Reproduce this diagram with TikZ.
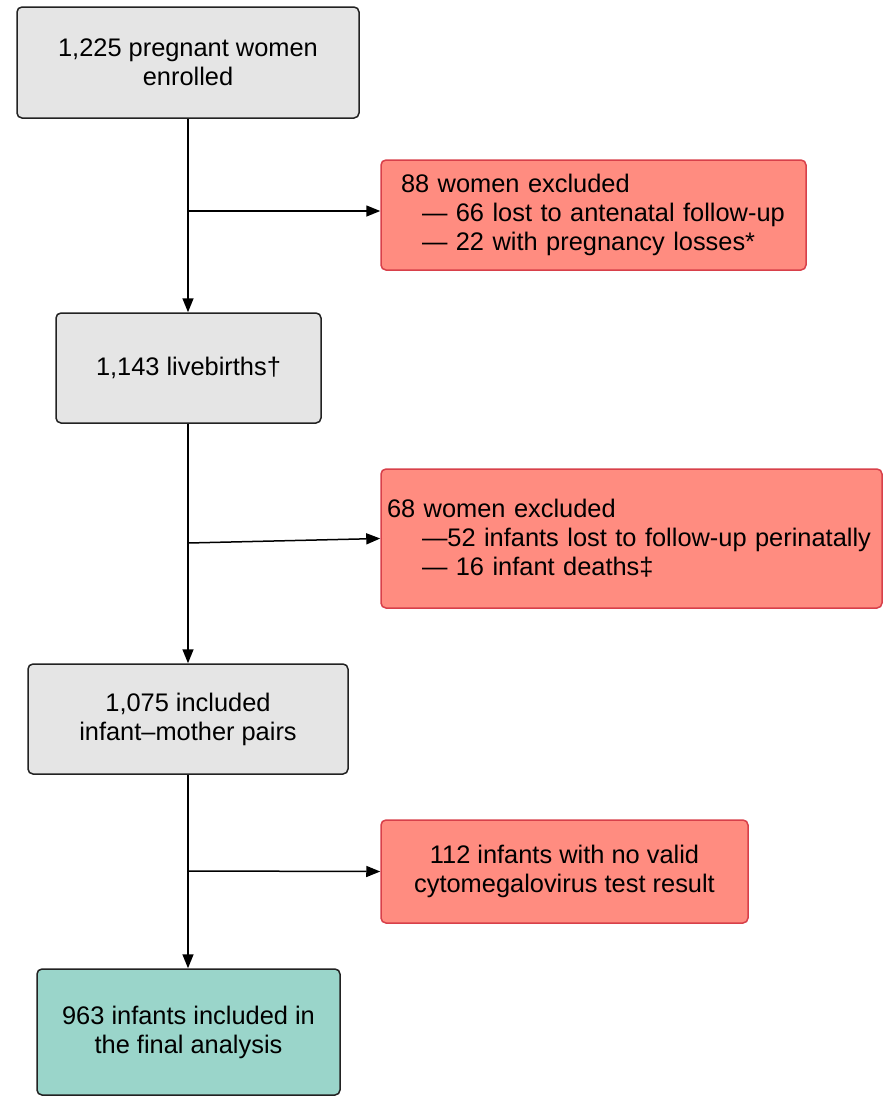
\documentclass[tikz,border=0pt]{standalone}
\usepackage{fontspec}
\setmainfont{Liberation Sans}
\usetikzlibrary{arrows.meta}
\definecolor{grayfill}{HTML}{E5E5E5}
\definecolor{redfill}{HTML}{FF8C80}
\definecolor{redline}{HTML}{D8404A}
\definecolor{tealfill}{HTML}{9AD5CA}
\definecolor{darkline}{HTML}{222222}
\begin{document}
\begin{tikzpicture}[x=1pt,y=-1pt,
  every node/.style={font=\fontsize{25.4}{29}\selectfont},
  basebox/.style={rounded corners=5pt, line width=1.5pt, inner sep=0pt, align=center},
  graybox/.style={basebox, draw=darkline, fill=grayfill},
  redbox/.style={basebox, draw=redline, fill=redfill},
  tealbox/.style={basebox, draw=darkline, fill=tealfill},
  arr/.style={line width=1.5pt, -{Triangle[length=14pt,width=11pt]}}
]
\useasboundingbox (0,0) rectangle (883,1096);

\node[graybox, minimum width=342pt, minimum height=111pt] (n1) at (188,62.5)
  {1,225 pregnant women\\enrolled};
\node[redbox, minimum width=425pt, minimum height=110pt, text width=385pt, inner xsep=20pt, align=left] (r1) at (593.5,215)
  {88 women excluded\\\hspace*{21pt}— 66 lost to antenatal follow-up\\\hspace*{21pt}— 22 with pregnancy losses*};
\node[graybox, minimum width=265pt, minimum height=110pt] (n2) at (188.5,368)
  {1,143 livebirths†};
\node[redbox, minimum width=501pt, minimum height=139pt, text width=489pt, inner xsep=6pt, align=left] (r2) at (631.5,538.5)
  {68 women excluded\\\hspace*{35pt}—52 infants lost to follow-up perinatally\\\hspace*{35pt}— 16 infant deaths‡};
\node[graybox, minimum width=320pt, minimum height=110pt] (n3) at (188,719)
  {1,075 included\\infant–mother pairs};
\node[redbox, minimum width=367pt, minimum height=103pt] (r3) at (564.5,871.5)
  {112 infants with no valid\\cytomegalovirus test result};
\node[tealbox, minimum width=303pt, minimum height=126pt] (n4) at (188.5,1032)
  {963 infants included in\\the final analysis};

\coordinate (b1) at (188,211);
\coordinate (b2) at (188,543);
\coordinate (b3) at (188,871);

\draw[arr] (n1.south) -- (n1.south |- n2.north);
\draw[arr] (n2.south -| n1.south) -- (n1.south |- n3.north);
\draw[arr] (n3.south) -- (n3.south |- n4.north);
\draw[arr] (b1) -- (b1 -| r1.west);
\draw[arr] (b2) -- (r2.west);
\draw[arr] (b3) -- (r3.west);
\end{tikzpicture}
\end{document}
